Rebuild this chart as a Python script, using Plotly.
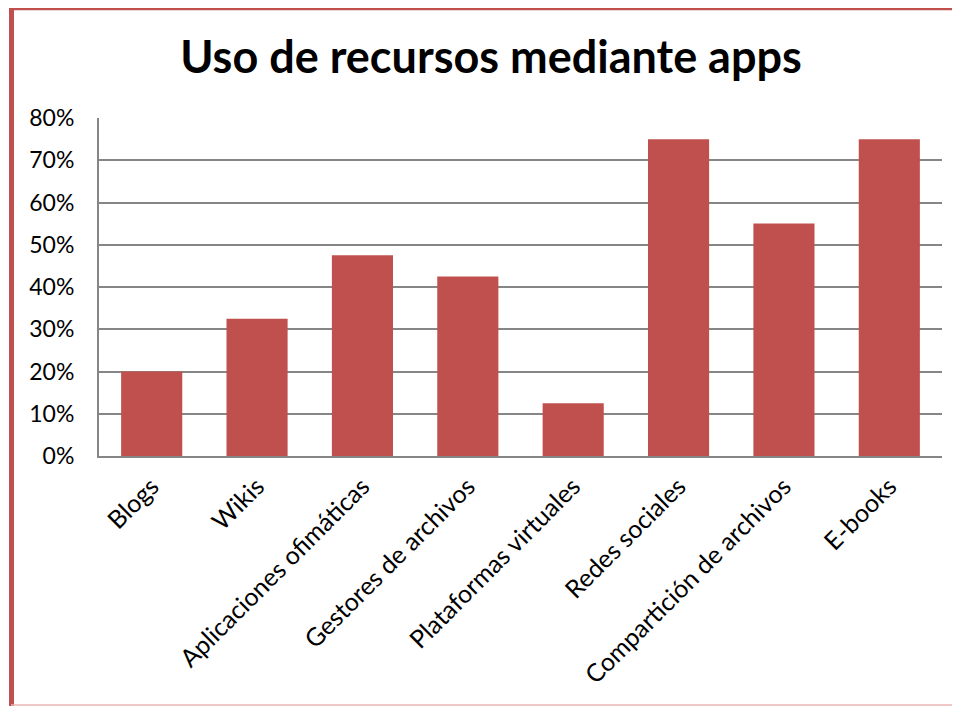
import plotly.graph_objects as go

categories = ["Blogs", "Wikis", "Aplicaciones ofimáticas", "Gestores de archivos",
              "Plataformas virtuales", "Redes sociales", "Compartición de archivos", "E-books"]
values = [0.20, 0.325, 0.475, 0.425, 0.125, 0.75, 0.55, 0.75]
y_ticks = [0, 0.1, 0.2, 0.3, 0.4, 0.5, 0.6, 0.7, 0.8]
y_ticklabels = ["0%", "10%", "20%", "30%", "40%", "50%", "60%", "70%", "80%"]

FONT = "Lato, 'Open Sans', sans-serif"
# page has an 8px body margin; figure is sized to fit the window
OFF = 8
W, H = 960 - OFF, 706 - OFF
L, R, T, B = 99 - OFF, 18, 118 - OFF, 250
pw, ph = W - L - R, H - T - B

def px_x(p):
    return (p - OFF - L) / pw

def px_y(p):
    return (H - B - (p - OFF)) / ph

fig = go.Figure(go.Bar(
    x=categories, y=values,
    marker=dict(color="#C0504D", line=dict(width=0)),
    width=0.58,
))

fig.update_layout(
    width=W, height=H,
    margin=dict(l=L, r=R, t=T, b=B),
    paper_bgcolor="white", plot_bgcolor="white",
    title=dict(text="<b>Uso de recursos mediante apps</b>", x=(491 - OFF) / W, xanchor="center",
               y=1 - (57 - OFF) / H, yanchor="middle",
               font=dict(family=FONT, size=45, color="black")),
    font=dict(family=FONT, color="black"),
    showlegend=False,
    xaxis=dict(showline=True, linecolor="#868686", linewidth=2, ticks="",
               tickangle=-45, tickfont=dict(size=25, color="black"),
               ticklabelstandoff=4,
               showgrid=False, mirror=False),
    yaxis=dict(range=[0, 0.8], tickvals=y_ticks, ticktext=y_ticklabels,
               showline=True, linecolor="#868686", linewidth=2,
               showgrid=True, gridcolor="#868686", gridwidth=1.5,
               tickfont=dict(size=23, color="black"), ticks="", zeroline=False,
               ticklabelstandoff=18),
    shapes=[
        dict(type="line", xref="paper", yref="paper",
             x0=px_x(9), x1=px_x(968), y0=px_y(9), y1=px_y(9),
             line=dict(color="#C0504D", width=2.5)),
        dict(type="line", xref="paper", yref="paper",
             x0=px_x(11.5), x1=px_x(11.5), y0=px_y(8), y1=px_y(714),
             line=dict(color="#C0504D", width=5)),
        dict(type="line", xref="paper", yref="paper",
             x0=px_x(11), x1=px_x(968), y0=px_y(705), y1=px_y(705),
             line=dict(color="#E8B4B3", width=1.5)),
    ],
)

fig.write_html("out.html")
